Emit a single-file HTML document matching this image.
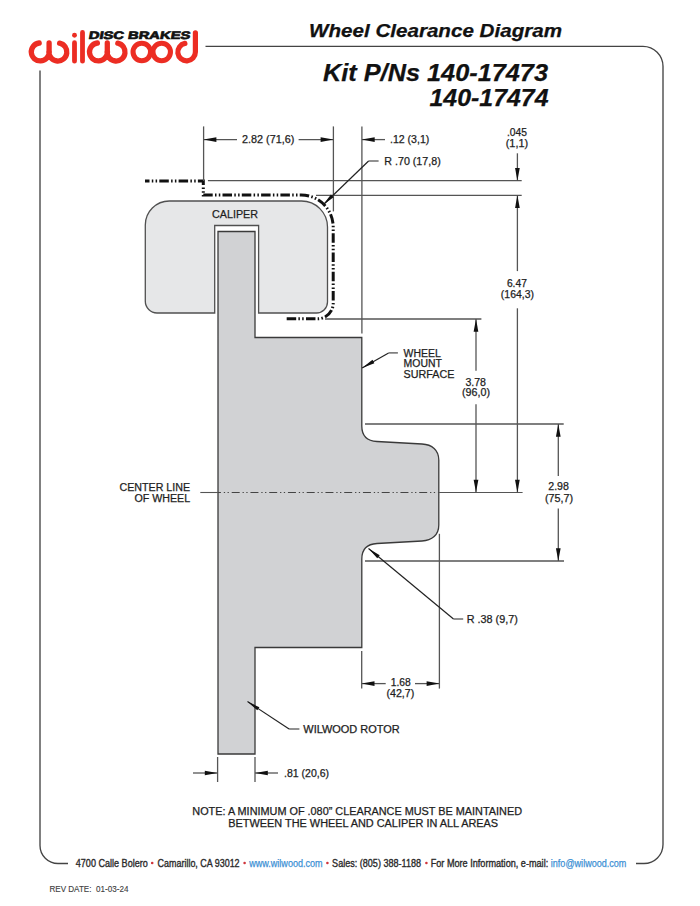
<!DOCTYPE html>
<html><head><meta charset="utf-8"><title>Wheel Clearance Diagram</title>
<style>
html,body{margin:0;padding:0;background:#fff;}
body{width:700px;height:906px;overflow:hidden;}
svg{display:block;font-family:"Liberation Sans", sans-serif;}
</style></head><body>
<svg width="700" height="906" viewBox="0 0 700 906">
<rect width="700" height="906" fill="#fff"/>
<path d="M205.5 46.3 H643 A20 20 0 0 1 663 66.3 V844.5 A19 19 0 0 1 644 863.5 H636" fill="none" stroke="#444" stroke-width="1.35"/>
<path d="M40 70.5 V845.5 A18 18 0 0 0 58 863.5 H68" fill="none" stroke="#444" stroke-width="1.35"/>
<path d="M39.2 43.0 A9 9 0 1 0 49.3 52 M48.85 52 A9 9 0 1 0 59.6 43.2 M49.1 43.0 V52 M97.4 43.0 A9 9 0 1 0 107.5 52 M107.05000000000001 52 A9 9 0 1 0 117.80000000000001 43.2 M107.30000000000001 43.0 V52" fill="none" stroke="#ec2d23" stroke-width="5.3" stroke-linecap="round"/>
<path d="M74.5 42.7 V61.2 M82.5 32.5 V61.2" fill="none" stroke="#ec2d23" stroke-width="4.8" stroke-linecap="round"/>
<circle cx="74.5" cy="35.25" r="2.45" fill="#ec2d23"/>
<circle cx="141.8" cy="52" r="8.75" fill="none" stroke="#ec2d23" stroke-width="5.1"/>
<circle cx="161.7" cy="52" r="8.75" fill="none" stroke="#ec2d23" stroke-width="5.1"/>
<path d="M195.4 32.75 V52 A8.8 8.8 0 1 1 184.9 43.4" fill="none" stroke="#ec2d23" stroke-width="5.2" stroke-linecap="round"/>
<g transform="translate(88.3 38.6) skewX(-10)">
<text x="0" y="0" font-size="10.8" font-weight="bold" font-style="normal" fill="#111" text-anchor="start" textLength="101.5" lengthAdjust="spacingAndGlyphs" stroke="#111" stroke-width="0.7" >DISC BRAKES</text>
</g>
<text x="309" y="37" font-size="18" font-weight="bold" font-style="italic" fill="#111" text-anchor="start" textLength="253" lengthAdjust="spacingAndGlyphs" stroke="#111" stroke-width="0.25" >Wheel Clearance Diagram</text>
<text x="323" y="81" font-size="23.2" font-weight="bold" font-style="italic" fill="#111" text-anchor="start" textLength="225" lengthAdjust="spacingAndGlyphs" stroke="#111" stroke-width="0.25" >Kit P/Ns 140-17473</text>
<text x="429.5" y="106.3" font-size="23.2" font-weight="bold" font-style="italic" fill="#111" text-anchor="start" textLength="119" lengthAdjust="spacingAndGlyphs" stroke="#111" stroke-width="0.25" >140-17474</text>
<path d="M145.3 225 A24 24 0 0 1 169.3 201 H301.5 A26 26 0 0 1 327.5 227 V302 A11 11 0 0 1 316.5 313 H258.6 V225.5 H214.7 V313 H157 A11.7 11.7 0 0 1 145.3 301.3 Z" fill="#e6e7e8" stroke="#505050" stroke-width="1.3"/>
<text x="212" y="217.9" font-size="11" font-weight="normal" font-style="normal" fill="#1e1e1e" text-anchor="start" textLength="46" lengthAdjust="spacingAndGlyphs" stroke="#1e1e1e" stroke-width="0.25" >CALIPER</text>
<path d="M218 231.5 H255 V337.5 H361.8 V426 C361.8 436 367 441 377 441.5 L422 444 C432 444.5 438.8 450 438.8 460 V525 C438.8 535 432 540.5 422 541 L377 543.5 C367 544 361.8 549 361.8 559 V647.5 H255 V754 H218 Z" fill="#d1d2d4" stroke="#3a3a3a" stroke-width="1.3"/>
<path d="M145 181 H203.3 V195 H301.2 A32 32 0 0 1 333.2 227 V303.5 A15.5 15.5 0 0 1 317.7 318.8 H286.4" fill="none" stroke="#111" stroke-width="3" stroke-dasharray="9.5 2.3 1.5 2.3 1.5 2.2" stroke-dashoffset="5"/>
<line x1="200.3" y1="492.5" x2="218" y2="492.5" stroke="#555555" stroke-width="1.1"/>
<line x1="218" y1="492.5" x2="438.8" y2="492.5" stroke="#444" stroke-width="1" stroke-dasharray="8 2.85 1.3 2.45 1.3 2.85" stroke-dashoffset="5.05"/>
<line x1="438.8" y1="492.5" x2="522.6" y2="492.5" stroke="#555555" stroke-width="1.1"/>
<line x1="203.6" y1="126.4" x2="203.6" y2="181" stroke="#555555" stroke-width="1.3"/>
<line x1="333.4" y1="126.4" x2="333.4" y2="211.4" stroke="#555555" stroke-width="1.3"/>
<line x1="361.9" y1="126.4" x2="361.9" y2="333.6" stroke="#555555" stroke-width="1.3"/>
<line x1="207.9" y1="180.7" x2="521.7" y2="180.7" stroke="#555555" stroke-width="1.3"/>
<line x1="316" y1="195.3" x2="521.7" y2="195.3" stroke="#555555" stroke-width="1.3"/>
<line x1="325" y1="319" x2="481.4" y2="319" stroke="#555555" stroke-width="1.3"/>
<line x1="365" y1="424" x2="563.7" y2="424" stroke="#555555" stroke-width="1.3"/>
<line x1="365" y1="561" x2="564" y2="561" stroke="#555555" stroke-width="1.3"/>
<line x1="439.4" y1="533.8" x2="439.4" y2="688.6" stroke="#555555" stroke-width="1.3"/>
<line x1="361.7" y1="651" x2="361.7" y2="688.6" stroke="#555555" stroke-width="1.3"/>
<line x1="217.6" y1="757" x2="217.6" y2="782" stroke="#555555" stroke-width="1.3"/>
<line x1="255" y1="757" x2="255" y2="782" stroke="#555555" stroke-width="1.3"/>
<line x1="203.6" y1="139.6" x2="237" y2="139.6" stroke="#555555" stroke-width="1.3"/>
<polygon points="203.60,139.60 216.40,137.25 216.40,141.95" fill="#111"/>
<line x1="298.6" y1="139.6" x2="333.4" y2="139.6" stroke="#555555" stroke-width="1.3"/>
<polygon points="333.40,139.60 320.60,141.95 320.60,137.25" fill="#111"/>
<text x="242" y="142.9" font-size="10" font-weight="normal" font-style="normal" fill="#1e1e1e" text-anchor="start" textLength="52.3" lengthAdjust="spacingAndGlyphs" stroke="#1e1e1e" stroke-width="0.25" >2.82 (71,6)</text>
<line x1="361.9" y1="139.6" x2="385" y2="139.6" stroke="#555555" stroke-width="1.3"/>
<polygon points="361.90,139.60 374.70,137.25 374.70,141.95" fill="#111"/>
<text x="390" y="142.9" font-size="10" font-weight="normal" font-style="normal" fill="#1e1e1e" text-anchor="start" textLength="39.3" lengthAdjust="spacingAndGlyphs" stroke="#1e1e1e" stroke-width="0.25" >.12 (3,1)</text>
<line x1="378.6" y1="161" x2="368.6" y2="161" stroke="#555555" stroke-width="1.3"/>
<line x1="368.6" y1="161" x2="323" y2="205" stroke="#222" stroke-width="1.2"/>
<polygon points="323.00,205.00 330.92,194.52 333.59,197.22" fill="#111"/>
<text x="384.3" y="165" font-size="10" font-weight="normal" font-style="normal" fill="#1e1e1e" text-anchor="start" textLength="56.4" lengthAdjust="spacingAndGlyphs" stroke="#1e1e1e" stroke-width="0.25" >R .70 (17,8)</text>
<text x="516.9" y="135.8" font-size="10" font-weight="normal" font-style="normal" fill="#1e1e1e" text-anchor="middle" textLength="20" lengthAdjust="spacingAndGlyphs" stroke="#1e1e1e" stroke-width="0.25" >.045</text>
<text x="516.9" y="147" font-size="10" font-weight="normal" font-style="normal" fill="#1e1e1e" text-anchor="middle" textLength="22.3" lengthAdjust="spacingAndGlyphs" stroke="#1e1e1e" stroke-width="0.25" >(1,1)</text>
<line x1="517.4" y1="153.3" x2="517.4" y2="180.7" stroke="#555555" stroke-width="1.3"/>
<polygon points="517.40,180.70 515.05,167.90 519.75,167.90" fill="#111"/>
<line x1="517.4" y1="195.3" x2="517.4" y2="271.1" stroke="#555555" stroke-width="1.3"/>
<polygon points="517.40,195.30 519.75,208.10 515.05,208.10" fill="#111"/>
<text x="516.9" y="286.6" font-size="10" font-weight="normal" font-style="normal" fill="#1e1e1e" text-anchor="middle" textLength="20" lengthAdjust="spacingAndGlyphs" stroke="#1e1e1e" stroke-width="0.25" >6.47</text>
<text x="517.4" y="298" font-size="10" font-weight="normal" font-style="normal" fill="#1e1e1e" text-anchor="middle" textLength="33.1" lengthAdjust="spacingAndGlyphs" stroke="#1e1e1e" stroke-width="0.25" >(164,3)</text>
<line x1="517.4" y1="308.3" x2="517.4" y2="492.5" stroke="#555555" stroke-width="1.3"/>
<polygon points="517.40,492.50 515.05,479.70 519.75,479.70" fill="#111"/>
<line x1="476" y1="319" x2="476" y2="370.7" stroke="#555555" stroke-width="1.3"/>
<polygon points="476.00,319.00 478.35,331.80 473.65,331.80" fill="#111"/>
<text x="475.7" y="385.7" font-size="10" font-weight="normal" font-style="normal" fill="#1e1e1e" text-anchor="middle" textLength="20.6" lengthAdjust="spacingAndGlyphs" stroke="#1e1e1e" stroke-width="0.25" >3.78</text>
<text x="476" y="396.4" font-size="10" font-weight="normal" font-style="normal" fill="#1e1e1e" text-anchor="middle" textLength="28" lengthAdjust="spacingAndGlyphs" stroke="#1e1e1e" stroke-width="0.25" >(96,0)</text>
<line x1="476" y1="404.3" x2="476" y2="492.5" stroke="#555555" stroke-width="1.3"/>
<polygon points="476.00,492.50 473.65,479.70 478.35,479.70" fill="#111"/>
<line x1="558.3" y1="424" x2="558.3" y2="476" stroke="#555555" stroke-width="1.3"/>
<polygon points="558.30,424.00 560.65,436.80 555.95,436.80" fill="#111"/>
<text x="558.6" y="489.7" font-size="10" font-weight="normal" font-style="normal" fill="#1e1e1e" text-anchor="middle" textLength="20.6" lengthAdjust="spacingAndGlyphs" stroke="#1e1e1e" stroke-width="0.25" >2.98</text>
<text x="559" y="501.7" font-size="10" font-weight="normal" font-style="normal" fill="#1e1e1e" text-anchor="middle" textLength="28.2" lengthAdjust="spacingAndGlyphs" stroke="#1e1e1e" stroke-width="0.25" >(75,7)</text>
<line x1="558.3" y1="508.6" x2="558.3" y2="561" stroke="#555555" stroke-width="1.3"/>
<polygon points="558.30,561.00 555.95,548.20 560.65,548.20" fill="#111"/>
<line x1="397.9" y1="352.9" x2="388.6" y2="352.9" stroke="#555555" stroke-width="1.3"/>
<line x1="388.6" y1="352.9" x2="362.1" y2="367.9" stroke="#222" stroke-width="1.2"/>
<polygon points="362.10,367.90 372.48,359.84 374.35,363.15" fill="#111"/>
<text x="403.6" y="356.6" font-size="10" font-weight="normal" font-style="normal" fill="#1e1e1e" text-anchor="start" textLength="37.1" lengthAdjust="spacingAndGlyphs" stroke="#1e1e1e" stroke-width="0.25" >WHEEL</text>
<text x="403.6" y="367.1" font-size="10" font-weight="normal" font-style="normal" fill="#1e1e1e" text-anchor="start" textLength="38.3" lengthAdjust="spacingAndGlyphs" stroke="#1e1e1e" stroke-width="0.25" >MOUNT</text>
<text x="403.6" y="377.7" font-size="10" font-weight="normal" font-style="normal" fill="#1e1e1e" text-anchor="start" textLength="50.8" lengthAdjust="spacingAndGlyphs" stroke="#1e1e1e" stroke-width="0.25" >SURFACE</text>
<text x="190.1" y="491.4" font-size="10" font-weight="normal" font-style="normal" fill="#1e1e1e" text-anchor="end" textLength="70.6" lengthAdjust="spacingAndGlyphs" stroke="#1e1e1e" stroke-width="0.25" >CENTER LINE</text>
<text x="190.1" y="502" font-size="10" font-weight="normal" font-style="normal" fill="#1e1e1e" text-anchor="end" textLength="55.7" lengthAdjust="spacingAndGlyphs" stroke="#1e1e1e" stroke-width="0.25" >OF WHEEL</text>
<line x1="463.2" y1="619" x2="453.5" y2="619" stroke="#555555" stroke-width="1.3"/>
<line x1="453.5" y1="619" x2="368.5" y2="548.5" stroke="#222" stroke-width="1.2"/>
<polygon points="368.50,548.50 379.72,555.34 377.29,558.26" fill="#111"/>
<text x="466.8" y="622.6" font-size="10" font-weight="normal" font-style="normal" fill="#1e1e1e" text-anchor="start" textLength="51" lengthAdjust="spacingAndGlyphs" stroke="#1e1e1e" stroke-width="0.25" >R .38 (9,7)</text>
<line x1="361.7" y1="683.6" x2="385.7" y2="683.6" stroke="#555555" stroke-width="1.3"/>
<polygon points="361.70,683.60 374.50,681.25 374.50,685.95" fill="#111"/>
<line x1="415" y1="683.6" x2="439.4" y2="683.6" stroke="#555555" stroke-width="1.3"/>
<polygon points="439.40,683.60 426.60,685.95 426.60,681.25" fill="#111"/>
<text x="400.7" y="686.4" font-size="10" font-weight="normal" font-style="normal" fill="#1e1e1e" text-anchor="middle" textLength="20" lengthAdjust="spacingAndGlyphs" stroke="#1e1e1e" stroke-width="0.25" >1.68</text>
<text x="400.35" y="697.1" font-size="10" font-weight="normal" font-style="normal" fill="#1e1e1e" text-anchor="middle" textLength="27.9" lengthAdjust="spacingAndGlyphs" stroke="#1e1e1e" stroke-width="0.25" >(42,7)</text>
<line x1="299.4" y1="729" x2="289.1" y2="729" stroke="#555555" stroke-width="1.3"/>
<line x1="289.1" y1="729" x2="247.5" y2="701.6" stroke="#222" stroke-width="1.2"/>
<polygon points="247.50,701.60 259.40,707.16 257.31,710.34" fill="#111"/>
<text x="303.3" y="733.2" font-size="10" font-weight="normal" font-style="normal" fill="#1e1e1e" text-anchor="start" textLength="96.4" lengthAdjust="spacingAndGlyphs" stroke="#1e1e1e" stroke-width="0.25" >WILWOOD ROTOR</text>
<line x1="193" y1="773" x2="217.6" y2="773" stroke="#555555" stroke-width="1.3"/>
<polygon points="217.60,773.00 204.80,775.35 204.80,770.65" fill="#111"/>
<line x1="278" y1="773" x2="255" y2="773" stroke="#555555" stroke-width="1.3"/>
<polygon points="255.00,773.00 267.80,770.65 267.80,775.35" fill="#111"/>
<text x="284" y="776.7" font-size="10" font-weight="normal" font-style="normal" fill="#1e1e1e" text-anchor="start" textLength="45" lengthAdjust="spacingAndGlyphs" stroke="#1e1e1e" stroke-width="0.25" >.81 (20,6)</text>
<text x="192.3" y="815" font-size="10" font-weight="normal" font-style="normal" fill="#1e1e1e" text-anchor="start" textLength="329.7" lengthAdjust="spacingAndGlyphs" stroke="#1e1e1e" stroke-width="0.25" >NOTE: A MINIMUM OF .080&#8221; CLEARANCE MUST BE MAINTAINED</text>
<text x="228.3" y="827.1" font-size="10" font-weight="normal" font-style="normal" fill="#1e1e1e" text-anchor="start" textLength="269.8" lengthAdjust="spacingAndGlyphs" stroke="#1e1e1e" stroke-width="0.25" >BETWEEN THE WHEEL AND CALIPER IN ALL AREAS</text>
<text x="75.8" y="866.5" font-size="10.5" font-weight="normal" font-style="normal" fill="#2a2a2a" text-anchor="start" textLength="72" lengthAdjust="spacingAndGlyphs" stroke="#2a2a2a" stroke-width="0.35" >4700 Calle Bolero</text>
<circle cx="152.2" cy="863" r="1.3" fill="#d0343a"/>
<text x="157.6" y="866.5" font-size="10.5" font-weight="normal" font-style="normal" fill="#2a2a2a" text-anchor="start" textLength="82" lengthAdjust="spacingAndGlyphs" stroke="#2a2a2a" stroke-width="0.35" >Camarillo, CA 93012</text>
<circle cx="244.6" cy="863" r="1.3" fill="#d0343a"/>
<text x="249.3" y="866.5" font-size="10.5" font-weight="normal" font-style="normal" fill="#3b8fd4" text-anchor="start" textLength="73.2" lengthAdjust="spacingAndGlyphs" stroke="#3b8fd4" stroke-width="0.25" >www.wilwood.com</text>
<circle cx="327.4" cy="863" r="1.3" fill="#d0343a"/>
<text x="332.1" y="866.5" font-size="10.5" font-weight="normal" font-style="normal" fill="#2a2a2a" text-anchor="start" textLength="88.9" lengthAdjust="spacingAndGlyphs" stroke="#2a2a2a" stroke-width="0.35" >Sales: (805) 388-1188</text>
<circle cx="426.4" cy="863" r="1.3" fill="#d0343a"/>
<text x="430.7" y="866.5" font-size="10.5" font-weight="normal" font-style="normal" fill="#2a2a2a" text-anchor="start" textLength="117.5" lengthAdjust="spacingAndGlyphs" stroke="#2a2a2a" stroke-width="0.35" >For More Information, e-mail:</text>
<text x="550.8" y="866.5" font-size="10.5" font-weight="normal" font-style="normal" fill="#3b8fd4" text-anchor="start" textLength="75.6" lengthAdjust="spacingAndGlyphs" stroke="#3b8fd4" stroke-width="0.25" >info@wilwood.com</text>
<text x="49.4" y="891.9" font-size="8.2" font-weight="normal" font-style="normal" fill="#404040" text-anchor="start" textLength="79" lengthAdjust="spacingAndGlyphs" stroke="#404040" stroke-width="0.12" >REV DATE:&#160; 01-03-24</text>
</svg>
</body></html>
